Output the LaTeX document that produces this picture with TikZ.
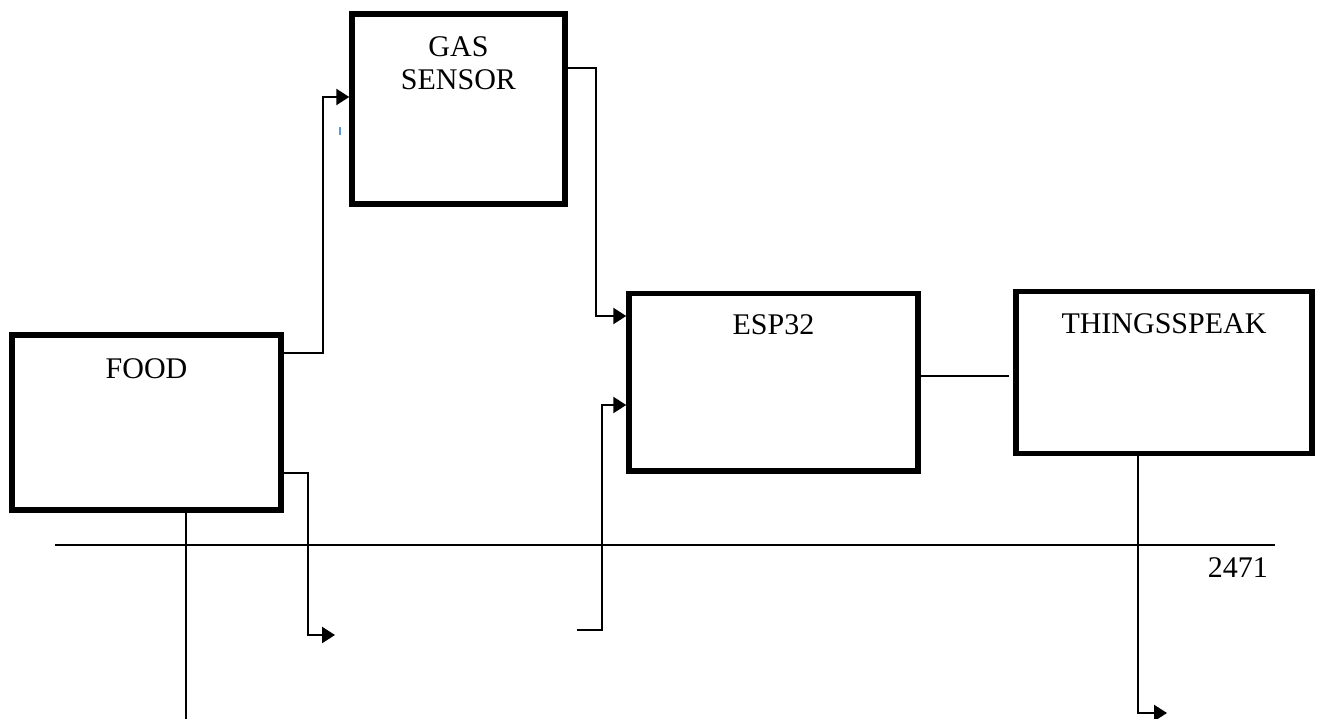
\documentclass[tikz,border=0pt]{standalone}
\usepackage{fontspec}
\setmainfont{Liberation Serif}
\usetikzlibrary{arrows.meta}
\definecolor{markblue}{RGB}{91,155,213}
\begin{document}
\begin{tikzpicture}[x=1pt,y=-1pt,
  block/.style={draw,line width=5.5pt,inner sep=0pt},
  title/.style={anchor=north,inner sep=0pt,align=center,font=\fontsize{30}{33}\selectfont},
  wire/.style={line width=2.4pt},
  arr/.style={wire,-{Triangle[length=13pt,width=16pt]}}]
  \useasboundingbox (0,0) rectangle (1317,719);
  \node[block,minimum width=269pt,minimum height=175pt] (food) at (146.5,422.5) {};
  \node[block,minimum width=213pt,minimum height=190pt] (gas) at (458.5,109) {};
  \node[block,minimum width=289pt,minimum height=177.5pt] (esp) at (773.5,382.25) {};
  \node[block,minimum width=296pt,minimum height=162pt] (thing) at (1164,372.5) {};
  \node[title] (foodtxt) at ([yshift=-26pt]food.north) {FOOD};
  \node[title] (gastxt) at ([yshift=-25pt]gas.north) {GAS\\SENSOR};
  \node[title] (esptxt) at ([yshift=-24pt]esp.north) {ESP32};
  \node[title] (thingtxt) at ([yshift=-25pt]thing.north) {THINGSSPEAK};
  \coordinate (foodend) at (335,635);
  \coordinate (espstart) at (577,630);
  \coordinate (foodbot) at (186,719);
  \coordinate (thingend) at (1167,713);
  \coordinate (rulel) at (55,545);
  \coordinate (ruler) at (1275,545);
  \draw[arr] (food.east |- 0,353) -| (323,97) -- (gas.west |- 0,97);
  \draw[arr] (gas.east |- 0,68) -| (596,316) -- (esp.west |- 0,316);
  \draw[wire,shorten >=4pt] (esp.east |- 0,376) -- (thing.west |- 0,376);
  \draw[arr] (food.east |- 0,473) -| (308,635) -- (foodend);
  \draw[arr] (espstart) -| (602,405) -- (esp.west |- 0,405);
  \draw[wire] (food.south -| 186,0) -- (foodbot);
  \draw[arr] (thing.south -| 1138,0) |- (thingend);
  \draw[wire] (rulel) -- (ruler);
  \node[anchor=base east,inner sep=0pt,font=\fontsize{30}{33}\selectfont] (pagenum) at (1268,577) {2471};
  \draw[markblue,line width=1.5pt] (340,127) -- (340,135);
\end{tikzpicture}
\end{document}
